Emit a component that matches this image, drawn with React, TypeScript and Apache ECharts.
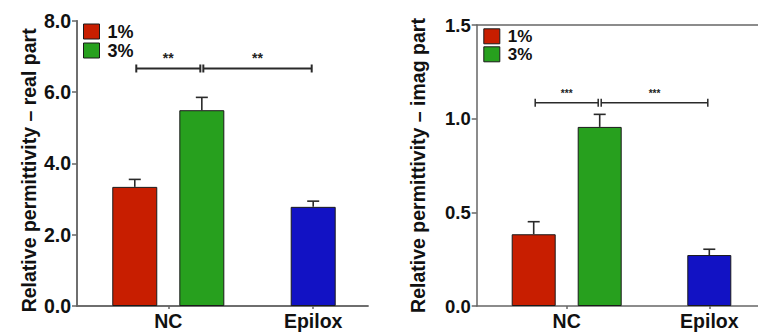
import React, { useEffect, useRef } from "react";
import * as echarts from "echarts";

// ---- data ----
const categories = ["NC", "Epilox"];
const legendNames = ["1%", "3%"];

// real part
const realMean1 = [3.34, null];
const realMean3 = [5.49, null];
const realMeanEpilox = [null, 2.78];
const realErr1 = [0.21, null];
const realErr3 = [0.36, null];
const realErrEpilox = [null, 0.16];
const realBracketY = 6.66;
const realStars = ["**", "**"];
const realTicks = [0, 8, 2];

// imaginary part
const imagMean1 = [0.383, null];
const imagMean3 = [0.956, null];
const imagMeanEpilox = [null, 0.272];
const imagErr1 = [0.067, null];
const imagErr3 = [0.067, null];
const imagErrEpilox = [null, 0.031];
const imagBracketY = 1.085;
const imagStars = ["***", "***"];
const imagTicks = [0, 1.5, 0.5];

const RED = "#C81E00";
const GREEN = "#27A01E";
const BLUE = "#1212C4";
const FONT = "'Liberation Sans', Arial, sans-serif";
const AXIS = "#666";

type Rect = { left: number; top: number; width: number; height: number };
type Panel = {
  frame: Rect;
  rightLine: boolean;
  bars: Rect; // category positions: blank slot, NC, Epilox (boundaryGap off)
  ticks: number[];
  name: string;
  nameGap: number;
  namePad: number[];
  tickFont: number;
  barWidth: number;
  gapRatio: number;
  m1: (number | null)[];
  m3: (number | null)[];
  me: (number | null)[];
  e1: (number | null)[];
  e3: (number | null)[];
  ee: (number | null)[];
  bracketY: number;
  stars: string[];
  starFont: number;
  starOffset: number;
  bracketWidth: number;
  legend: { left: number; top: number; font: number };
};

const panels: Panel[] = [
  {
    frame: { left: 77, top: 20.7, width: 291, height: 285.3 },
    rightLine: true,
    bars: { left: 23.4, top: 20.7, width: 289.8, height: 285.3 },
    ticks: realTicks,
    name: "Relative permittivity – real part",
    nameGap: 38,
    namePad: [0, 14, 0, 0],
    tickFont: 19.5,
    barWidth: 45,
    gapRatio: 0.49,
    m1: realMean1,
    m3: realMean3,
    me: realMeanEpilox,
    e1: realErr1,
    e3: realErr3,
    ee: realErrEpilox,
    bracketY: realBracketY,
    stars: realStars,
    starFont: 14,
    starOffset: 10,
    bracketWidth: 2,
    legend: { left: 83, top: 22.5, font: 18 },
  },
  {
    frame: { left: 476.7, top: 25, width: 281.3, height: 281 },
    rightLine: false,
    bars: { left: 424.1, top: 25, width: 285.2, height: 281 },
    ticks: imagTicks,
    name: "Relative permittivity – imag part",
    nameGap: 49,
    namePad: [0, 0, 0, 0],
    tickFont: 18.5,
    barWidth: 44,
    gapRatio: 0.5,
    m1: imagMean1,
    m3: imagMean3,
    me: imagMeanEpilox,
    e1: imagErr1,
    e3: imagErr3,
    ee: imagErrEpilox,
    bracketY: imagBracketY,
    stars: imagStars,
    starFont: 10,
    starOffset: 9,
    bracketWidth: 1.5,
    legend: { left: 483.3, top: 27.8, font: 17 },
  },
];

// a blank leading slot lets the category ticks sit where the reference puts them
const axisCats = ["", ...categories];
const toBar = (arr: (number | null)[]) => ["-", ...arr.map((v) => (v == null ? "-" : v))];

function buildOption() {
  const grid: any[] = [];
  const xAxis: any[] = [];
  const yAxis: any[] = [];
  const series: any[] = [];
  const legend: any[] = [];

  const frameLine = { show: true, lineStyle: { color: AXIS, width: 1.5 } };

  panels.forEach((p, pi) => {
    const [min, max, interval] = p.ticks;
    const gFrame = grid.length;
    grid.push({ ...p.frame });
    const gBars = grid.length;
    grid.push({ ...p.bars });

    // frame: bottom and top lines
    xAxis.push({
      type: "value",
      gridIndex: gFrame,
      position: "bottom",
      min: 0,
      max: 1,
      axisLine: frameLine,
      axisTick: { show: false },
      axisLabel: { show: false },
      splitLine: { show: false },
    });
    xAxis.push({
      type: "value",
      gridIndex: gFrame,
      position: "top",
      min: 0,
      max: 1,
      axisLine: frameLine,
      axisTick: { show: false },
      axisLabel: { show: false },
      splitLine: { show: false },
    });
    const xCat = xAxis.length;
    xAxis.push({
      type: "category",
      gridIndex: gBars,
      data: axisCats,
      boundaryGap: false,
      axisLine: { show: false },
      axisTick: {
        show: true,
        interval: (i: number) => i > 0,
        length: 3,
        lineStyle: { color: AXIS, width: 1.5 },
      },
      axisLabel: { margin: 5, fontFamily: FONT, fontWeight: "bold", fontSize: 19.5, color: "#111" },
      splitLine: { show: false },
    });
    // hidden twin axis so the Epilox bar is centred on its own category
    const xCatB = xAxis.length;
    xAxis.push({ type: "category", gridIndex: gBars, data: axisCats, boundaryGap: false, show: false });

    yAxis.push({
      type: "value",
      gridIndex: gFrame,
      position: "left",
      min,
      max,
      interval,
      name: p.name,
      nameLocation: "middle",
      nameGap: p.nameGap,
      nameTextStyle: { fontFamily: FONT, fontWeight: "bold", fontSize: 19.5, color: "#111", padding: p.namePad },
      axisLine: frameLine,
      axisTick: { show: true, length: 5, lineStyle: { color: AXIS, width: 1.5 } },
      axisLabel: {
        margin: 6,
        fontFamily: FONT,
        fontWeight: "bold",
        fontSize: p.tickFont,
        color: "#111",
        formatter: (v: number) => v.toFixed(1),
      },
      splitLine: { show: false },
    });
    if (p.rightLine) {
      yAxis.push({
        type: "value",
        gridIndex: gFrame,
        position: "right",
        min,
        max,
        axisLine: frameLine,
        axisTick: { show: false },
        axisLabel: { show: false },
        splitLine: { show: false },
      });
    }
    const yBars = yAxis.length;
    yAxis.push({ type: "value", gridIndex: gBars, min, max, show: false });

    const barStyle = (c: string) => ({ color: c, borderColor: "#1a1a1a", borderWidth: 1 });
    const gap = `${p.gapRatio * 100}%`;
    series.push({
      type: "bar",
      name: legendNames[0],
      xAxisIndex: xCat,
      yAxisIndex: yBars,
      data: toBar(p.m1),
      barWidth: p.barWidth,
      barGap: gap,
      itemStyle: barStyle(RED),
    });
    series.push({
      type: "bar",
      name: legendNames[1],
      xAxisIndex: xCat,
      yAxisIndex: yBars,
      data: toBar(p.m3),
      barWidth: p.barWidth,
      barGap: gap,
      itemStyle: barStyle(GREEN),
    });
    series.push({
      type: "bar",
      name: categories[1],
      xAxisIndex: xCatB,
      yAxisIndex: yBars,
      data: toBar(p.me),
      barWidth: p.barWidth,
      itemStyle: barStyle(BLUE),
    });

    const slotPx = (p.barWidth * (1 + p.gapRatio)) / 2;

    // error bars: [category slot, mean, err, side]
    const errData: number[][] = [];
    const addErr = (means: (number | null)[], errs: (number | null)[], side: number) => {
      means.forEach((m, i) => {
        if (m != null && errs[i] != null) errData.push([i + 1, m, errs[i] as number, side]);
      });
    };
    addErr(p.m1, p.e1, -1);
    addErr(p.m3, p.e3, 1);
    addErr(p.me, p.ee, 0);

    series.push({
      type: "custom",
      name: "err" + pi,
      xAxisIndex: xCat,
      yAxisIndex: yBars,
      data: errData,
      encode: { x: 0, y: 1 },
      z: 5,
      renderItem: (params: any, api: any) => {
        const cat = api.value(0);
        const mean = api.value(1);
        const err = api.value(2);
        const side = api.value(3);
        const base = api.coord([cat, mean]);
        const top = api.coord([cat, mean + err]);
        const x = base[0] + side * slotPx;
        const st = { stroke: "#2a2a2a", lineWidth: 1.6 };
        return {
          type: "group",
          children: [
            { type: "line", shape: { x1: x, y1: base[1], x2: x, y2: top[1] }, style: st },
            { type: "line", shape: { x1: x - 6, y1: top[1], x2: x + 6, y2: top[1] }, style: st },
          ],
        };
      },
    });

    // significance brackets: [catA, sideA, catB, sideB, y]
    const bracketData = [
      [1, -1, 1, 1, p.bracketY],
      [1, 1, 2, 0, p.bracketY],
    ];
    series.push({
      type: "custom",
      name: "sig" + pi,
      xAxisIndex: xCat,
      yAxisIndex: yBars,
      data: bracketData,
      encode: { x: 0, y: 4 },
      z: 5,
      renderItem: (params: any, api: any) => {
        const a = api.coord([api.value(0), api.value(4)]);
        const b = api.coord([api.value(2), api.value(4)]);
        const xa = a[0] + api.value(1) * slotPx + 1.5;
        const xb = b[0] + api.value(3) * slotPx - 1.5;
        const y = a[1];
        const st = { stroke: "#2a2a2a", lineWidth: p.bracketWidth };
        return {
          type: "group",
          children: [
            { type: "line", shape: { x1: xa, y1: y, x2: xb, y2: y }, style: st },
            { type: "line", shape: { x1: xa, y1: y - 4, x2: xa, y2: y + 4 }, style: st },
            { type: "line", shape: { x1: xb, y1: y - 4, x2: xb, y2: y + 4 }, style: st },
            {
              type: "text",
              style: {
                text: p.stars[params.dataIndex],
                x: (xa + xb) / 2,
                y: y - p.starOffset,
                textAlign: "center",
                textVerticalAlign: "middle",
                fill: "#222",
                font: `bold ${p.starFont}px ${FONT}`,
              },
            },
          ],
        };
      },
    });

    legend.push({
      data: legendNames,
      orient: "vertical",
      left: p.legend.left,
      top: p.legend.top,
      padding: 0,
      itemWidth: 16,
      itemHeight: 15,
      itemGap: 1,
      icon: "rect",
      selectedMode: false,
      itemStyle: { borderColor: "#1a1a1a", borderWidth: 1 },
      textStyle: {
        fontFamily: FONT,
        fontWeight: "bold",
        fontSize: p.legend.font,
        color: "#111",
        padding: [0, 0, 0, 3],
      },
    });
  });

  return { animation: false, backgroundColor: "#fff", grid, xAxis, yAxis, series, legend };
}

export default function App() {
  const ref = useRef<HTMLDivElement>(null);
  useEffect(() => {
    if (!ref.current) return;
    const chart = echarts.init(ref.current, undefined, { renderer: "svg" });
    chart.setOption(buildOption() as any);
    return () => chart.dispose();
  }, []);
  return (
    <div
      ref={ref}
      style={{ position: "absolute", left: 0, top: 0, width: 758, height: 332, background: "#fff" }}
    />
  );
}
